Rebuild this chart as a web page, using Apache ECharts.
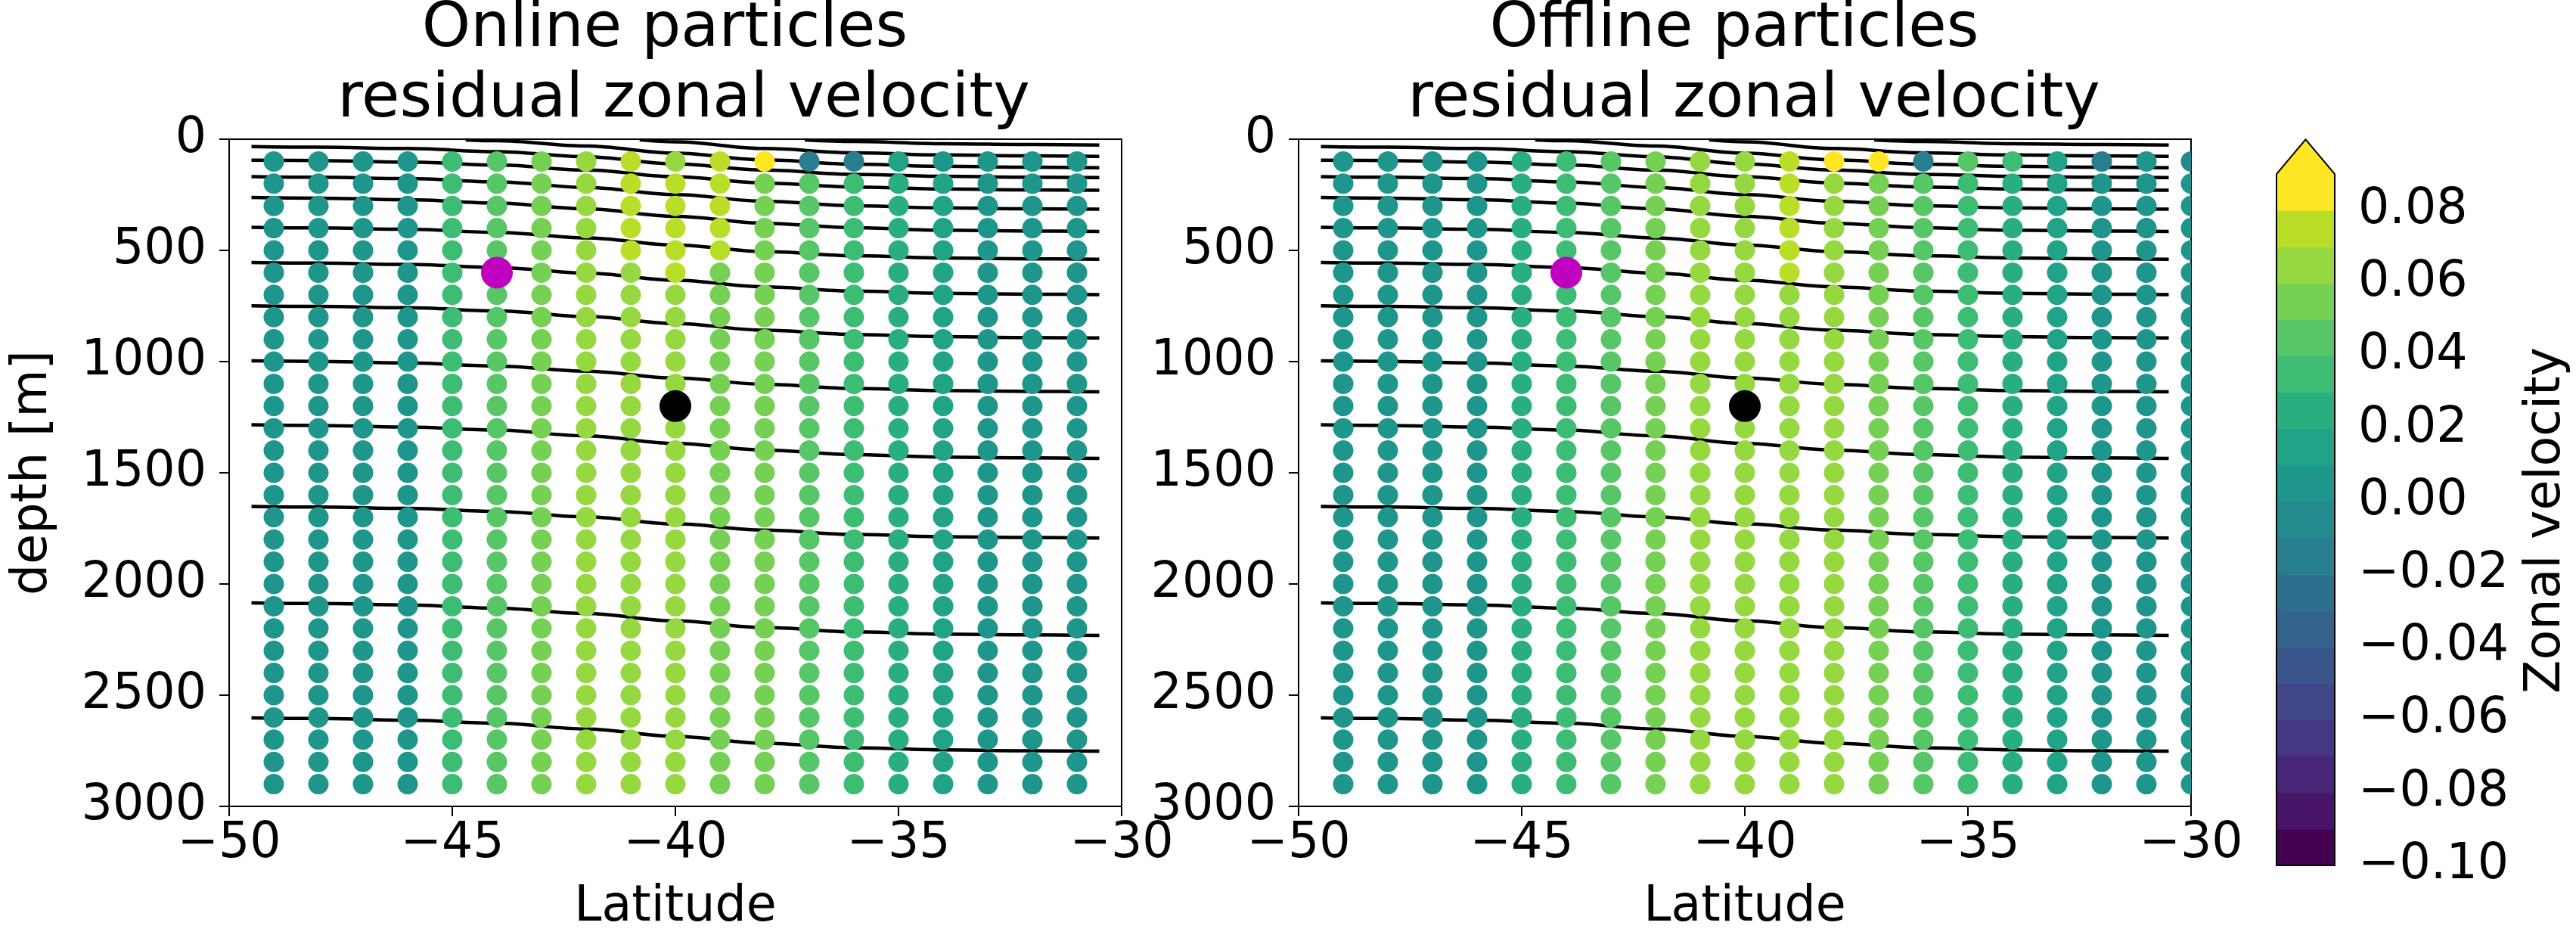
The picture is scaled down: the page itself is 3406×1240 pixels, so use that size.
<!DOCTYPE html>
<html>
<head>
<meta charset="utf-8">
<script src="https://cdn.jsdelivr.net/npm/echarts@6/dist/echarts.min.js"></script>
<style>
html, body { margin: 0; padding: 0; background: #ffffff; }
#chart { width: 3406px; height: 1240px; }
</style>
</head>
<body>
<div id="chart"></div>
<script>
// Particle release grid: latitude columns and depth rows
const latOnline = [-49, -48, -47, -46, -45, -44, -43, -42, -41, -40, -39, -38, -37, -36, -35, -34, -33, -32, -31];
const latOffline = [-49, -48, -47, -46, -45, -44, -43, -42, -41, -40, -39, -38, -37, -36, -35, -34, -33, -32, -31, -30];
const depths = [100, 200, 300, 400, 500, 600, 700, 800, 900, 1000, 1100, 1200, 1300, 1400, 1500,
                1600, 1700, 1800, 1900, 2000, 2100, 2200, 2300, 2400, 2500, 2600, 2700, 2800, 2900];

// Residual zonal velocity (m/s), one row per depth, one value per latitude column
const onlineU = [
  [0.005, 0.005, 0.005, 0.005, 0.035, 0.045, 0.055, 0.065, 0.075, 0.065, 0.075, 0.095, -0.015, -0.015, 0.015, 0.005, 0.005, 0.005, 0.005],
  [0.005, 0.005, 0.005, 0.005, 0.035, 0.045, 0.055, 0.065, 0.075, 0.075, 0.075, 0.055, 0.045, 0.035, 0.025, 0.015, 0.005, 0.005, 0.005],
  [0.005, 0.005, 0.005, 0.005, 0.035, 0.045, 0.055, 0.065, 0.075, 0.075, 0.075, 0.055, 0.045, 0.035, 0.025, 0.015, 0.005, 0.005, 0.005],
  [0.005, 0.005, 0.005, 0.005, 0.035, 0.045, 0.055, 0.065, 0.075, 0.075, 0.075, 0.055, 0.045, 0.035, 0.025, 0.015, 0.005, 0.005, 0.005],
  [0.005, 0.005, 0.005, 0.005, 0.035, 0.045, 0.055, 0.065, 0.075, 0.075, 0.075, 0.055, 0.045, 0.035, 0.025, 0.015, 0.005, 0.005, 0.005],
  [0.005, 0.005, 0.005, 0.005, 0.035, 0.045, 0.055, 0.065, 0.065, 0.075, 0.055, 0.055, 0.045, 0.035, 0.025, 0.015, 0.005, 0.005, 0.005],
  [0.005, 0.005, 0.005, 0.005, 0.035, 0.045, 0.055, 0.065, 0.065, 0.065, 0.055, 0.055, 0.045, 0.035, 0.025, 0.015, 0.005, 0.005, 0.005],
  [0.005, 0.005, 0.005, 0.005, 0.035, 0.045, 0.055, 0.065, 0.065, 0.065, 0.055, 0.055, 0.045, 0.035, 0.025, 0.015, 0.005, 0.005, 0.005],
  [0.005, 0.005, 0.005, 0.005, 0.035, 0.045, 0.055, 0.065, 0.065, 0.065, 0.055, 0.055, 0.045, 0.035, 0.025, 0.015, 0.005, 0.005, 0.005],
  [0.005, 0.005, 0.005, 0.005, 0.035, 0.045, 0.055, 0.065, 0.065, 0.065, 0.055, 0.055, 0.045, 0.035, 0.025, 0.015, 0.005, 0.005, 0.005],
  [0.005, 0.005, 0.005, 0.005, 0.035, 0.045, 0.055, 0.065, 0.065, 0.065, 0.055, 0.055, 0.045, 0.035, 0.025, 0.015, 0.005, 0.005, 0.005],
  [0.005, 0.005, 0.005, 0.005, 0.035, 0.045, 0.055, 0.065, 0.065, 0.065, 0.055, 0.055, 0.045, 0.035, 0.025, 0.015, 0.005, 0.005, 0.005],
  [0.005, 0.005, 0.005, 0.005, 0.035, 0.045, 0.055, 0.065, 0.065, 0.065, 0.055, 0.055, 0.045, 0.035, 0.025, 0.015, 0.005, 0.005, 0.005],
  [0.005, 0.005, 0.005, 0.005, 0.035, 0.045, 0.055, 0.065, 0.065, 0.065, 0.055, 0.055, 0.045, 0.035, 0.025, 0.015, 0.005, 0.005, 0.005],
  [0.005, 0.005, 0.005, 0.005, 0.035, 0.045, 0.055, 0.065, 0.065, 0.065, 0.055, 0.055, 0.045, 0.035, 0.025, 0.015, 0.005, 0.005, 0.005],
  [0.005, 0.005, 0.005, 0.005, 0.035, 0.045, 0.055, 0.065, 0.065, 0.065, 0.055, 0.055, 0.045, 0.035, 0.025, 0.015, 0.005, 0.005, 0.005],
  [0.005, 0.005, 0.005, 0.005, 0.035, 0.045, 0.055, 0.065, 0.065, 0.065, 0.055, 0.055, 0.045, 0.035, 0.025, 0.015, 0.005, 0.005, 0.005],
  [0.005, 0.005, 0.005, 0.005, 0.035, 0.045, 0.055, 0.065, 0.065, 0.065, 0.055, 0.055, 0.045, 0.035, 0.025, 0.015, 0.005, 0.005, 0.005],
  [0.005, 0.005, 0.005, 0.005, 0.035, 0.045, 0.055, 0.065, 0.065, 0.065, 0.055, 0.055, 0.045, 0.035, 0.025, 0.015, 0.005, 0.005, 0.005],
  [0.005, 0.005, 0.005, 0.005, 0.035, 0.045, 0.055, 0.065, 0.065, 0.065, 0.055, 0.055, 0.045, 0.035, 0.025, 0.015, 0.005, 0.005, 0.005],
  [0.005, 0.005, 0.005, 0.005, 0.035, 0.045, 0.055, 0.065, 0.065, 0.065, 0.055, 0.055, 0.045, 0.035, 0.025, 0.015, 0.005, 0.005, 0.005],
  [0.005, 0.005, 0.005, 0.005, 0.035, 0.045, 0.055, 0.065, 0.065, 0.065, 0.055, 0.055, 0.045, 0.035, 0.025, 0.015, 0.005, 0.005, 0.005],
  [0.005, 0.005, 0.005, 0.005, 0.035, 0.045, 0.055, 0.065, 0.065, 0.065, 0.055, 0.055, 0.045, 0.035, 0.025, 0.015, 0.005, 0.005, 0.005],
  [0.005, 0.005, 0.005, 0.005, 0.035, 0.045, 0.055, 0.065, 0.065, 0.065, 0.055, 0.055, 0.045, 0.035, 0.025, 0.015, 0.005, 0.005, 0.005],
  [0.005, 0.005, 0.005, 0.005, 0.035, 0.045, 0.055, 0.065, 0.065, 0.065, 0.055, 0.055, 0.045, 0.035, 0.025, 0.015, 0.005, 0.005, 0.005],
  [0.005, 0.005, 0.005, 0.005, 0.035, 0.045, 0.055, 0.065, 0.065, 0.065, 0.055, 0.055, 0.045, 0.035, 0.025, 0.015, 0.005, 0.005, 0.005],
  [0.005, 0.005, 0.005, 0.005, 0.035, 0.045, 0.055, 0.065, 0.065, 0.065, 0.055, 0.055, 0.045, 0.035, 0.025, 0.015, 0.005, 0.005, 0.005],
  [0.005, 0.005, 0.005, 0.005, 0.035, 0.045, 0.055, 0.065, 0.065, 0.065, 0.055, 0.055, 0.045, 0.035, 0.025, 0.015, 0.005, 0.005, 0.005],
  [0.005, 0.005, 0.005, 0.005, 0.035, 0.045, 0.055, 0.065, 0.065, 0.065, 0.055, 0.055, 0.045, 0.035, 0.025, 0.015, 0.005, 0.005, 0.005]
];

const offlineU = [
  [0.005, 0.005, 0.005, 0.005, 0.025, 0.035, 0.045, 0.055, 0.065, 0.065, 0.075, 0.095, 0.095, -0.015, 0.045, 0.035, 0.015, -0.015, 0.005, -0.005],
  [0.005, 0.005, 0.005, 0.005, 0.025, 0.035, 0.045, 0.055, 0.065, 0.065, 0.075, 0.065, 0.055, 0.045, 0.035, 0.025, 0.015, 0.005, 0.005, 0.005],
  [0.005, 0.005, 0.005, 0.005, 0.025, 0.035, 0.045, 0.055, 0.065, 0.065, 0.075, 0.065, 0.055, 0.045, 0.035, 0.025, 0.015, 0.005, 0.005, 0.005],
  [0.005, 0.005, 0.005, 0.005, 0.025, 0.035, 0.045, 0.055, 0.065, 0.065, 0.075, 0.065, 0.055, 0.045, 0.035, 0.025, 0.015, 0.005, 0.005, 0.005],
  [0.005, 0.005, 0.005, 0.005, 0.025, 0.035, 0.045, 0.055, 0.065, 0.065, 0.075, 0.065, 0.055, 0.045, 0.035, 0.025, 0.015, 0.005, 0.005, 0.005],
  [0.005, 0.005, 0.005, 0.005, 0.025, 0.035, 0.045, 0.055, 0.065, 0.065, 0.075, 0.065, 0.055, 0.045, 0.035, 0.025, 0.015, 0.005, 0.005, 0.005],
  [0.005, 0.005, 0.005, 0.005, 0.025, 0.035, 0.045, 0.055, 0.065, 0.065, 0.065, 0.065, 0.055, 0.045, 0.035, 0.025, 0.015, 0.005, 0.005, 0.005],
  [0.005, 0.005, 0.005, 0.005, 0.025, 0.035, 0.045, 0.055, 0.065, 0.065, 0.065, 0.065, 0.055, 0.045, 0.035, 0.025, 0.015, 0.005, 0.005, 0.005],
  [0.005, 0.005, 0.005, 0.005, 0.025, 0.035, 0.045, 0.055, 0.065, 0.065, 0.065, 0.065, 0.055, 0.045, 0.035, 0.025, 0.015, 0.005, 0.005, 0.005],
  [0.005, 0.005, 0.005, 0.005, 0.025, 0.035, 0.045, 0.055, 0.065, 0.065, 0.065, 0.065, 0.055, 0.045, 0.035, 0.025, 0.015, 0.005, 0.005, 0.005],
  [0.005, 0.005, 0.005, 0.005, 0.025, 0.035, 0.045, 0.055, 0.065, 0.065, 0.065, 0.065, 0.055, 0.045, 0.035, 0.025, 0.015, 0.005, 0.005, 0.005],
  [0.005, 0.005, 0.005, 0.005, 0.025, 0.035, 0.045, 0.055, 0.065, 0.065, 0.065, 0.065, 0.055, 0.045, 0.035, 0.025, 0.015, 0.005, 0.005, 0.005],
  [0.005, 0.005, 0.005, 0.005, 0.025, 0.035, 0.045, 0.055, 0.065, 0.065, 0.065, 0.065, 0.055, 0.045, 0.035, 0.025, 0.015, 0.005, 0.005, 0.005],
  [0.005, 0.005, 0.005, 0.005, 0.025, 0.035, 0.045, 0.055, 0.065, 0.065, 0.065, 0.065, 0.055, 0.045, 0.035, 0.025, 0.015, 0.005, 0.005, 0.005],
  [0.005, 0.005, 0.005, 0.005, 0.025, 0.035, 0.045, 0.055, 0.065, 0.065, 0.065, 0.065, 0.055, 0.045, 0.035, 0.025, 0.015, 0.005, 0.005, 0.005],
  [0.005, 0.005, 0.005, 0.005, 0.025, 0.035, 0.045, 0.055, 0.065, 0.065, 0.065, 0.065, 0.055, 0.045, 0.035, 0.025, 0.015, 0.005, 0.005, 0.005],
  [0.005, 0.005, 0.005, 0.005, 0.025, 0.035, 0.045, 0.055, 0.065, 0.065, 0.065, 0.065, 0.055, 0.045, 0.035, 0.025, 0.015, 0.005, 0.005, 0.005],
  [0.005, 0.005, 0.005, 0.005, 0.025, 0.035, 0.045, 0.055, 0.065, 0.065, 0.065, 0.065, 0.055, 0.045, 0.035, 0.025, 0.015, 0.005, 0.005, 0.005],
  [0.005, 0.005, 0.005, 0.005, 0.025, 0.035, 0.045, 0.055, 0.065, 0.065, 0.065, 0.065, 0.055, 0.045, 0.035, 0.025, 0.015, 0.005, 0.005, 0.005],
  [0.005, 0.005, 0.005, 0.005, 0.025, 0.035, 0.045, 0.055, 0.065, 0.065, 0.065, 0.065, 0.055, 0.045, 0.035, 0.025, 0.015, 0.005, 0.005, 0.005],
  [0.005, 0.005, 0.005, 0.005, 0.025, 0.035, 0.045, 0.055, 0.065, 0.065, 0.065, 0.065, 0.055, 0.045, 0.035, 0.025, 0.015, 0.005, 0.005, 0.005],
  [0.005, 0.005, 0.005, 0.005, 0.025, 0.035, 0.045, 0.055, 0.065, 0.065, 0.065, 0.065, 0.055, 0.045, 0.035, 0.025, 0.015, 0.005, 0.005, 0.005],
  [0.005, 0.005, 0.005, 0.005, 0.025, 0.035, 0.045, 0.055, 0.065, 0.065, 0.065, 0.065, 0.055, 0.045, 0.035, 0.025, 0.015, 0.005, 0.005, 0.005],
  [0.005, 0.005, 0.005, 0.005, 0.025, 0.035, 0.045, 0.055, 0.065, 0.065, 0.065, 0.065, 0.055, 0.045, 0.035, 0.025, 0.015, 0.005, 0.005, 0.005],
  [0.005, 0.005, 0.005, 0.005, 0.025, 0.035, 0.045, 0.055, 0.065, 0.065, 0.065, 0.065, 0.055, 0.045, 0.035, 0.025, 0.015, 0.005, 0.005, 0.005],
  [0.005, 0.005, 0.005, 0.005, 0.025, 0.035, 0.045, 0.055, 0.065, 0.065, 0.065, 0.065, 0.055, 0.045, 0.035, 0.025, 0.015, 0.005, 0.005, 0.005],
  [0.005, 0.005, 0.005, 0.005, 0.025, 0.035, 0.045, 0.055, 0.065, 0.065, 0.065, 0.065, 0.055, 0.045, 0.035, 0.025, 0.015, 0.005, 0.005, 0.005],
  [0.005, 0.005, 0.005, 0.005, 0.025, 0.035, 0.045, 0.055, 0.065, 0.065, 0.065, 0.065, 0.055, 0.045, 0.035, 0.025, 0.015, 0.005, 0.005, 0.005],
  [0.005, 0.005, 0.005, 0.005, 0.025, 0.035, 0.045, 0.055, 0.065, 0.065, 0.065, 0.065, 0.055, 0.045, 0.035, 0.025, 0.015, 0.005, 0.005, 0.005]
];

// Isopycnal contours: depth (m) at each sampled latitude
const contourLats = [-49.5, -48, -46, -44, -42, -40, -38, -36, -34, -32, -30.5];
const contourDepths = [
  [2602, 2605, 2612, 2626, 2652, 2685, 2716, 2736, 2746, 2750, 2752],
  [2085, 2088, 2094, 2109, 2133, 2166, 2196, 2215, 2225, 2229, 2231],
  [1651, 1654, 1660, 1674, 1698, 1730, 1758, 1777, 1787, 1791, 1793],
  [1284, 1287, 1294, 1308, 1334, 1368, 1398, 1418, 1429, 1433, 1435],
  [997, 999, 1006, 1020, 1043, 1074, 1102, 1121, 1130, 1134, 1136],
  [749, 752, 758, 772, 797, 829, 859, 878, 888, 892, 894],
  [554, 557, 563, 577, 602, 634, 664, 683, 693, 697, 699],
  [396, 399, 405, 419, 444, 476, 505, 524, 534, 538, 540],
  [262, 265, 272, 287, 313, 347, 378, 398, 409, 413, 415],
  [168, 171, 177, 192, 217, 249, 279, 299, 309, 313, 315],
  [94, 96, 103, 116, 139, 169, 197, 215, 224, 228, 230],
  [33, 36, 42, 56, 79, 111, 139, 158, 167, 171, 173]
];
// Contours that reach the surface inside the section: [latitude, depth] pairs
const outcropContours = [
  [[-44.7, 3], [-44, 7], [-42, 31], [-40, 63], [-38, 93], [-36, 112], [-34, 122], [-32, 126], [-30.5, 128]],
  [[-40.8, 3], [-40, 12], [-38, 42], [-36, 61], [-34, 71], [-32, 75], [-30.5, 77]],
  [[-37.1, 3], [-36, 10], [-34, 20], [-32, 24], [-30.5, 26]]
];

// Highlighted release positions [latitude, depth]
const magentaPoint = [-44, 600];
const blackPoint = [-40, 1200];

// Colour scale: band boundaries, tick labels and the extension tip
const bandEdges = [-0.10, -0.09, -0.08, -0.07, -0.06, -0.05, -0.04, -0.03, -0.02, -0.01,
                   0.00, 0.01, 0.02, 0.03, 0.04, 0.05, 0.06, 0.07, 0.08, 0.09];
const colorbarTicks = [-0.10, -0.08, -0.06, -0.04, -0.02, 0.00, 0.02, 0.04, 0.06, 0.08];
const extendTip = 0.0995;

const bandColors = ['#440154', '#481467', '#482576', '#453781', '#404688', '#39568c', '#33638d',
                    '#2d708e', '#287d8e', '#238a8d', '#1f968b', '#20a386', '#29af7f', '#3dbc74',
                    '#56c667', '#75d054', '#95d840', '#bade28', '#fde725'];
const overColor = '#fde725';

const FONT = '"DejaVu Sans", "Liberation Sans", sans-serif';
const TICK_SIZE = 65;
const TITLE_SIZE = 82;

function bandColor(v) {
  for (let i = 0; i < bandColors.length; i++) {
    if (v < bandEdges[i + 1] || i === bandColors.length - 1 && v < 0.09) return bandColors[i];
  }
  return overColor;
}

function signed(v) {
  return v < 0 ? '\u2212' + String(Math.abs(v)) : String(v);
}

function cbLabel(v) {
  const c = Math.round(v * 100);
  if (!colorbarTicks.some(t => Math.round(t * 100) === c)) return '';
  return (c < 0 ? '\u2212' : '') + (Math.abs(c) / 100).toFixed(2);
}

function gridPoints(lats, values) {
  const pts = [];
  depths.forEach((d, r) => {
    lats.forEach((lat, c) => pts.push([lat, d, values[r][c]]));
  });
  return pts;
}

function renderDot(params, api) {
  const p = api.coord([api.value(0), api.value(1)]);
  return {
    type: 'circle',
    shape: { cx: p[0], cy: p[1], r: 13.5 },
    style: { fill: bandColor(api.value(2)) }
  };
}

function latAxis(gridIndex) {
  return {
    gridIndex, type: 'value', min: -50, max: -30, interval: 5,
    axisLine: { show: true, onZero: false, lineStyle: { color: '#000', width: 2 } },
    axisTick: { show: true, length: 13, lineStyle: { color: '#000', width: 2 } },
    axisLabel: { color: '#000', fontSize: TICK_SIZE, fontFamily: FONT, margin: 18, formatter: signed },
    splitLine: { show: false }
  };
}

function depthAxis(gridIndex) {
  return {
    gridIndex, type: 'value', inverse: true, min: 0, max: 3000, interval: 500,
    axisLine: { show: true, onZero: false, lineStyle: { color: '#000', width: 2 } },
    axisTick: { show: true, length: 13, lineStyle: { color: '#000', width: 2 } },
    axisLabel: { color: '#000', fontSize: TICK_SIZE, fontFamily: FONT, margin: 30, formatter: v => String(v) },
    splitLine: { show: false }
  };
}

function contourSeries(axisIndex) {
  const list = [];
  const base = {
    type: 'line', xAxisIndex: axisIndex, yAxisIndex: axisIndex, z: 2,
    smooth: 0.35, smoothMonotone: 'x', showSymbol: false, symbol: 'none',
    lineStyle: { color: '#000', width: 4.5 }, silent: true, animation: false
  };
  contourDepths.forEach(row => {
    list.push(Object.assign({}, base, { data: contourLats.map((lat, i) => [lat, row[i]]) }));
  });
  outcropContours.forEach(line => {
    list.push(Object.assign({}, base, { data: line }));
  });
  return list;
}

function markerSeries(axisIndex) {
  return [
    { type: 'scatter', xAxisIndex: axisIndex, yAxisIndex: axisIndex, z: 6, symbol: 'circle', symbolSize: 42,
      itemStyle: { color: '#bf00bf', opacity: 1 }, data: [magentaPoint], animation: false, silent: true },
    { type: 'scatter', xAxisIndex: axisIndex, yAxisIndex: axisIndex, z: 6, symbol: 'circle', symbolSize: 42,
      itemStyle: { color: '#000000', opacity: 1 }, data: [blackPoint], animation: false, silent: true }
  ];
}

function label(text, x, y, size, rotation) {
  return {
    type: 'text', x, y, rotation: rotation || 0,
    style: { text, font: size + 'px ' + FONT, fill: '#000', align: 'center', verticalAlign: 'middle',
             textAlign: 'center', textVerticalAlign: 'middle' }
  };
}

const chart = echarts.init(document.getElementById('chart'), null, { renderer: 'canvas', width: 3406, height: 1240 });

const colorbarData = bandColors.map((c, i) => [bandEdges[i], i]);

const option = {
  backgroundColor: '#ffffff',
  animation: false,
  grid: [
    { left: 303, top: 184, width: 1180, height: 882, show: true, borderColor: '#000', borderWidth: 2, backgroundColor: 'transparent', outerBoundsMode: 'none' },
    { left: 1717, top: 184, width: 1180, height: 882, show: true, borderColor: '#000', borderWidth: 2, backgroundColor: 'transparent', outerBoundsMode: 'none' },
    { left: 3010, top: 230, width: 77, height: 914, outerBoundsMode: 'none' }
  ],
  xAxis: [
    latAxis(0), latAxis(1),
    { gridIndex: 2, type: 'value', min: 0, max: 1, show: false }
  ],
  yAxis: [
    depthAxis(0), depthAxis(1),
    {
      gridIndex: 2, type: 'value', position: 'right', min: -0.10, max: 0.09, interval: 0.01,
      axisLine: { show: false },
      axisTick: { show: true, length: 10, lineStyle: { color: '#000', width: 2 } },
      axisLabel: { color: '#000', fontSize: TICK_SIZE, fontFamily: FONT, margin: 31, formatter: cbLabel, showMaxLabel: true, showMinLabel: true },
      splitLine: { show: false }
    }
  ],
  graphic: [
    label('Online particles', 879, 40, TITLE_SIZE),
    label('residual zonal velocity', 904, 133, TITLE_SIZE),
    label('Offline particles', 2293, 40, TITLE_SIZE),
    label('residual zonal velocity', 2319, 133, TITLE_SIZE),
    label('Latitude', 893, 1200, TICK_SIZE),
    label('Latitude', 2307, 1200, TICK_SIZE),
    label('depth [m]', 44, 625, TICK_SIZE, Math.PI / 2),
    label('Zonal velocity', 3367, 688, TICK_SIZE, Math.PI / 2)
  ],
  series: [
    ...contourSeries(0),
    ...contourSeries(1),
    {
      type: 'custom', xAxisIndex: 0, yAxisIndex: 0, z: 4, clip: true, silent: true, animation: false,
      renderItem: renderDot, encode: { x: 0, y: 1 }, data: gridPoints(latOnline, onlineU)
    },
    {
      type: 'custom', xAxisIndex: 1, yAxisIndex: 1, z: 4, clip: true, silent: true, animation: false,
      renderItem: renderDot, encode: { x: 0, y: 1 }, data: gridPoints(latOffline, offlineU)
    },
    ...markerSeries(0),
    ...markerSeries(1),
    {
      // colour bar bands
      type: 'custom', xAxisIndex: 2, yAxisIndex: 2, z: 3, silent: true, animation: false,
      encode: { y: 0 },
      data: colorbarData,
      renderItem: function (params, api) {
        const i = api.value(1);
        const p0 = api.coord([0, bandEdges[i]]);
        const top = i + 1 < bandEdges.length ? bandEdges[i + 1] : 0.09;
        const p1 = api.coord([1, top]);
        return {
          type: 'rect',
          shape: { x: p0[0], y: p1[1], width: p1[0] - p0[0], height: p0[1] - p1[1] + 0.6 },
          style: { fill: bandColors[i] }
        };
      }
    },
    {
      // extension triangle and colour bar outline
      type: 'custom', xAxisIndex: 2, yAxisIndex: 2, z: 5, silent: true, animation: false, clip: false,
      encode: { y: 0 },
      data: [[extendTip]],
      renderItem: function (params, api) {
        const bl = api.coord([0, bandEdges[0]]);
        const br = api.coord([1, bandEdges[0]]);
        const tl = api.coord([0, 0.09]);
        const tr = api.coord([1, 0.09]);
        const tip = api.coord([0.5, api.value(0)]);
        return {
          type: 'group',
          children: [
            { type: 'polygon', shape: { points: [tl, tr, tip] }, style: { fill: overColor } },
            { type: 'polygon', shape: { points: [bl, br, tr, tip, tl] }, style: { fill: 'none', stroke: '#000', lineWidth: 2 } }
          ]
        };
      }
    }
  ]
};

chart.setOption(option);
</script>
</body>
</html>
